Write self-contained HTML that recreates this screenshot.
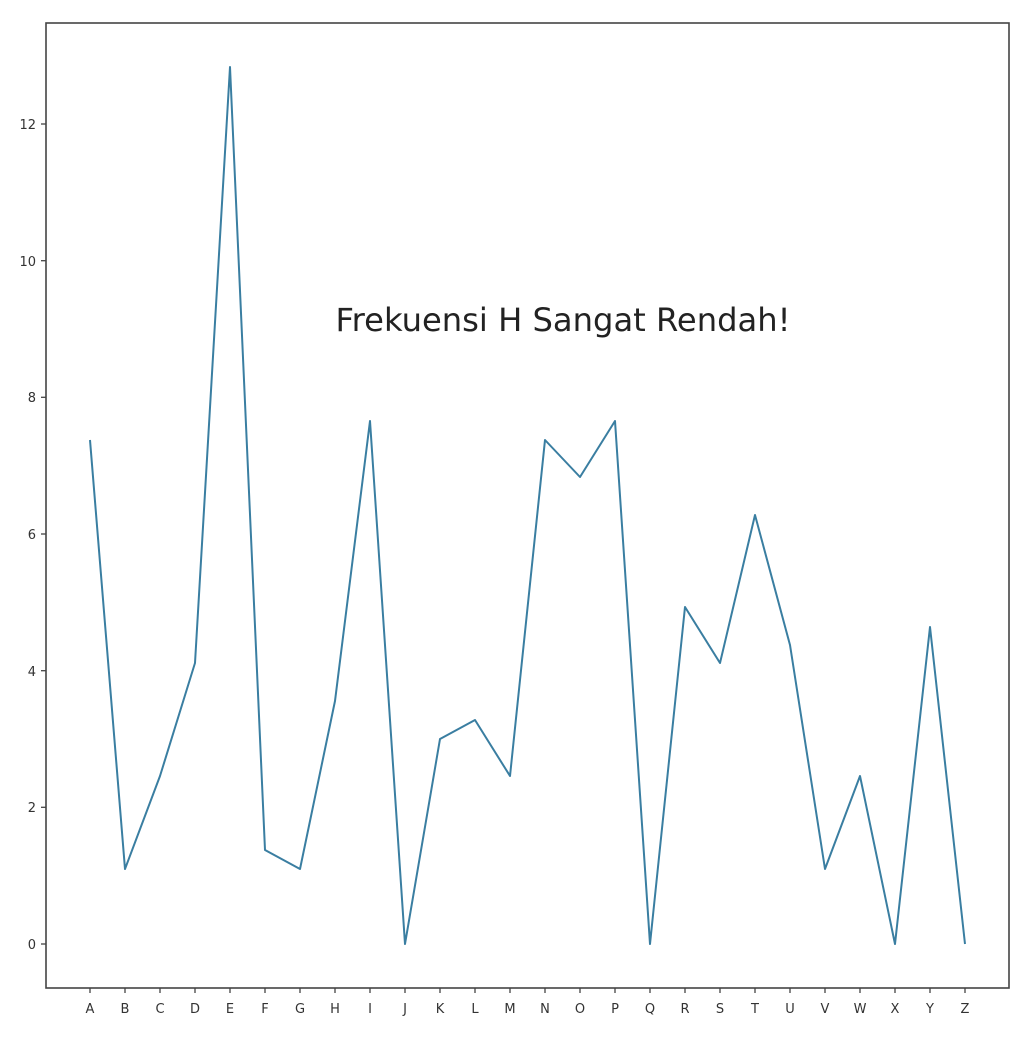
<!DOCTYPE html>
<html><head><meta charset="utf-8"><style>
html,body{margin:0;padding:0;background:#fff;}
svg{display:block;font-family:"DejaVu Sans","Liberation Sans",sans-serif;}
</style></head><body>
<svg width="1024" height="1040" viewBox="0 0 1024 1040" xmlns="http://www.w3.org/2000/svg">
<rect x="0" y="0" width="1024" height="1040" fill="#fff"/>
<rect x="46" y="23" width="963" height="965" fill="none" stroke="#444" stroke-width="1.6"/>
<g stroke="#444" stroke-width="1.3">
<line x1="41" y1="944" x2="46" y2="944"/><line x1="41" y1="807.3" x2="46" y2="807.3"/>
<line x1="41" y1="670.7" x2="46" y2="670.7"/><line x1="41" y1="534" x2="46" y2="534"/>
<line x1="41" y1="397.3" x2="46" y2="397.3"/><line x1="41" y1="260.7" x2="46" y2="260.7"/>
<line x1="41" y1="124" x2="46" y2="124"/>
</g>
<g font-size="13" fill="#333" text-anchor="end">
<text x="36" y="949">0</text><text x="36" y="812">2</text><text x="36" y="676">4</text>
<text x="36" y="539">6</text><text x="36" y="402">8</text><text x="36" y="266">10</text><text x="36" y="129">12</text>
</g>
<g font-size="13" fill="#333" text-anchor="middle">
<text x="90" y="1013">A</text><text x="125" y="1013">B</text><text x="160" y="1013">C</text><text x="195" y="1013">D</text>
<text x="230" y="1013">E</text><text x="265" y="1013">F</text><text x="300" y="1013">G</text><text x="335" y="1013">H</text>
<text x="370" y="1013">I</text><text x="405" y="1013">J</text><text x="440" y="1013">K</text><text x="475" y="1013">L</text>
<text x="510" y="1013">M</text><text x="545" y="1013">N</text><text x="580" y="1013">O</text><text x="615" y="1013">P</text>
<text x="650" y="1013">Q</text><text x="685" y="1013">R</text><text x="720" y="1013">S</text><text x="755" y="1013">T</text>
<text x="790" y="1013">U</text><text x="825" y="1013">V</text><text x="860" y="1013">W</text><text x="895" y="1013">X</text>
<text x="930" y="1013">Y</text><text x="965" y="1013">Z</text>
</g>
<g stroke="#444" stroke-width="1.3">
<path d="M90 988v5M125 988v5M160 988v5M195 988v5M230 988v5M265 988v5M300 988v5M335 988v5M370 988v5M405 988v5M440 988v5M475 988v5M510 988v5M545 988v5M580 988v5M615 988v5M650 988v5M685 988v5M720 988v5M755 988v5M790 988v5M825 988v5M860 988v5M895 988v5M930 988v5M965 988v5"/>
</g>
<polyline fill="none" stroke="#3a7ea1" stroke-width="2" stroke-linejoin="round"
points="90,440 125,869 160,776 195,663 230,67 265,850 300,869 335,701 370,421 405,944 440,739 475,720 510,776 545,440 580,477 615,421 650,944 685,607 720,663 755,515 790,645 825,869 860,776 895,944 930,627 965,944"/>
<text x="563" y="331" font-size="32" fill="#222" text-anchor="middle" textLength="455" lengthAdjust="spacingAndGlyphs">Frekuensi H Sangat Rendah!</text>
</svg>
</body></html>
